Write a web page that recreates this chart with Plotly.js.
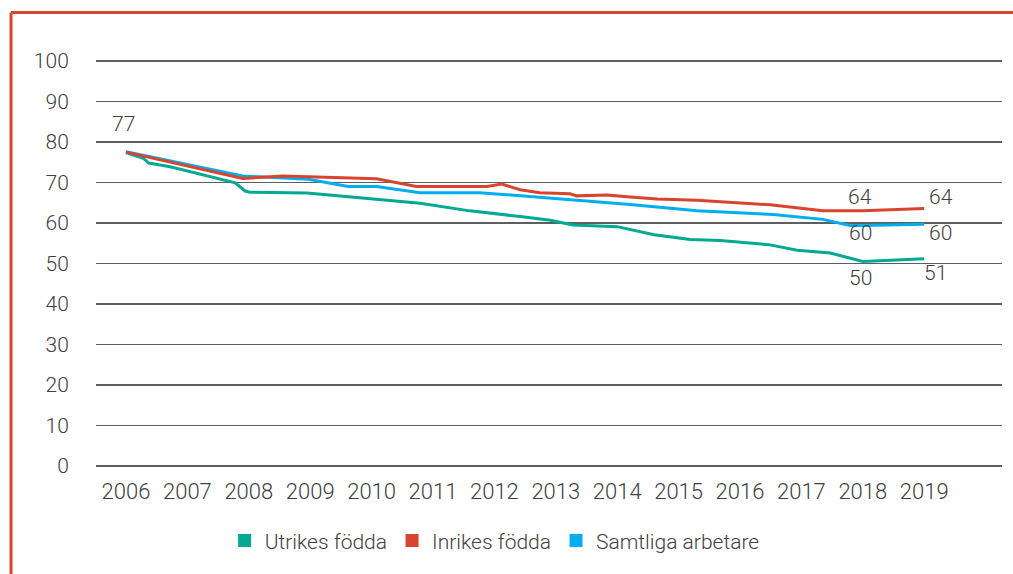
<!DOCTYPE html>
<html>
<head>
<meta charset="utf-8">
<script src="https://cdn.plot.ly/plotly-3.0.1.min.js"></script>
<style>html,body{margin:0;padding:0;background:#fff;}#chart{width:1013px;height:574px;}</style>
</head>
<body>
<div id="chart"></div>
<script>
// Year ticks
var tickYears = [2006,2007,2008,2009,2010,2011,2012,2013,2014,2015,2016,2017,2018,2019];
var tickLabels = ['2006','2007','2008','2009','2010','2011','2012','2013','2014','2015','2016','2017','2018','2019'];

// Utrikes födda
var utrikesX = [2006.00,2006.28,2006.37,2006.72,2007.78,2007.94,2008.02,2008.95,2010.79,2011.60,2012.42,2012.91,2013.28,2014.00,2014.60,2015.19,2015.68,2016.49,2016.93,2017.47,2018.00,2019.00];
var utrikesY = [77.4,76.0,74.8,73.9,69.9,67.9,67.6,67.4,64.9,63.0,61.6,60.7,59.5,59.1,57.1,55.9,55.7,54.6,53.3,52.6,50.5,51.2];

// Inrikes födda
var inrikesX = [2006.00,2007.90,2008.55,2010.08,2010.73,2011.88,2012.12,2012.42,2012.74,2013.23,2013.34,2013.83,2014.21,2014.65,2015.30,2016.49,2017.35,2018.00,2019.00];
var inrikesY = [77.5,71.0,71.6,70.9,69.0,69.0,69.6,68.2,67.5,67.2,66.7,66.9,66.4,65.9,65.6,64.5,63.0,63.0,63.6];

// Samtliga arbetare
var samtligaX = [2006.00,2007.90,2008.97,2009.62,2010.08,2010.79,2011.76,2013.23,2014.21,2015.30,2016.54,2017.35,2017.79,2018.00,2019.00];
var samtligaY = [77.6,71.6,70.8,69.0,69.0,67.5,67.5,65.8,64.6,63.0,62.1,60.9,59.4,59.4,59.7];

// Printed value labels
var startLabel = {year: 2006, text: '77'};
var utrikesLabels = {years: [2018, 2019], texts: ['50', '51']};
var inrikesLabels = {years: [2018, 2019], texts: ['64', '64']};
var samtligaLabels = {years: [2018, 2019], texts: ['60', '60']};

var seriesNames = ['Utrikes födda', 'Inrikes födda', 'Samtliga arbetare'];
var colors = ['#00a991', '#d8442e', '#00aeef'];

var FONT = 'Roboto, "Liberation Sans", Arial, sans-serif';
var TXT = '#404040';

function lineTrace(x, y, color, name) {
  return {x: x, y: y, type: 'scatter', mode: 'lines', name: name, showlegend: false,
          line: {color: color, width: 3}, hoverinfo: 'skip'};
}
function legendTrace(color, name) {
  return {x: [null], y: [null], type: 'scatter', mode: 'markers', name: name,
          marker: {symbol: 'square', size: 13, color: color}};
}

var data = [
  lineTrace(samtligaX, samtligaY, colors[2], seriesNames[2]),
  lineTrace(utrikesX, utrikesY, colors[0], seriesNames[0]),
  lineTrace(inrikesX, inrikesY, colors[1], seriesNames[1]),
  legendTrace(colors[0], seriesNames[0]),
  legendTrace(colors[1], seriesNames[1]),
  legendTrace(colors[2], seriesNames[2])
];

function valueAt(xs, ys, yr) {
  var i = xs.indexOf(yr);
  return ys[i];
}
function ann(x, y, text, xs, ys) {
  return {x: x, y: y, text: text, showarrow: false, xref: 'x', yref: 'y',
          xshift: xs, yshift: ys, font: {family: FONT, size: 21, color: TXT, weight: 300}};
}
var annotations = [
  ann(startLabel.year, valueAt(inrikesX, inrikesY, startLabel.year), startLabel.text, -3, 28),
  ann(inrikesLabels.years[0], valueAt(inrikesX, inrikesY, inrikesLabels.years[0]), inrikesLabels.texts[0], -3, 14),
  ann(inrikesLabels.years[1], valueAt(inrikesX, inrikesY, inrikesLabels.years[1]), inrikesLabels.texts[1], 17, 11),
  ann(samtligaLabels.years[0], valueAt(samtligaX, samtligaY, samtligaLabels.years[0]), samtligaLabels.texts[0], -2, -8),
  ann(samtligaLabels.years[1], valueAt(samtligaX, samtligaY, samtligaLabels.years[1]), samtligaLabels.texts[1], 16, -9),
  ann(utrikesLabels.years[0], valueAt(utrikesX, utrikesY, utrikesLabels.years[0]), utrikesLabels.texts[0], -2, -17),
  ann(utrikesLabels.years[1], valueAt(utrikesX, utrikesY, utrikesLabels.years[1]), utrikesLabels.texts[1], 11, -14)
];

var layout = {
  width: 1013, height: 574,
  margin: {l: 96, r: 11, t: 59, b: 106},
  paper_bgcolor: '#ffffff', plot_bgcolor: '#ffffff',
  font: {family: FONT, color: TXT, weight: 300},
  showlegend: true,
  legend: {orientation: 'h', x: 0.44, xanchor: 'center', y: -0.178, yanchor: 'middle',
           font: {family: FONT, size: 21, color: TXT, weight: 300}, traceorder: 'normal',
           itemclick: false},
  xaxis: {range: [2005.5114, 2020.267], tickvals: tickYears, ticktext: tickLabels,
          showgrid: false, zeroline: false, showline: false,
          ticks: 'outside', ticklen: 4, tickcolor: 'rgba(0,0,0,0)',
          tickfont: {family: FONT, size: 22, color: TXT, weight: 300}},
  yaxis: {range: [-0.5, 100.5], tickvals: [0,10,20,30,40,50,60,70,80,90,100],
          showgrid: true, gridcolor: '#5e5e5e', gridwidth: 1.3, zeroline: false, showline: false,
          ticks: 'outside', ticklen: 22, tickcolor: 'rgba(0,0,0,0)',
          tickfont: {family: FONT, size: 21, color: TXT, weight: 300}},
  annotations: annotations,
  shapes: [
    {type: 'line', xref: 'paper', yref: 'paper', x0: -0.0938, x1: 1.05, y0: 1.1137, y1: 1.1137,
     line: {color: '#d8442e', width: 3}},
    {type: 'line', xref: 'paper', yref: 'paper', x0: -0.0938, x1: -0.0938, y0: 1.1137, y1: -0.4,
     line: {color: '#d8442e', width: 3}}
  ]
};

Plotly.newPlot('chart', data, layout, {staticPlot: true, displayModeBar: false});
</script>
</body>
</html>
